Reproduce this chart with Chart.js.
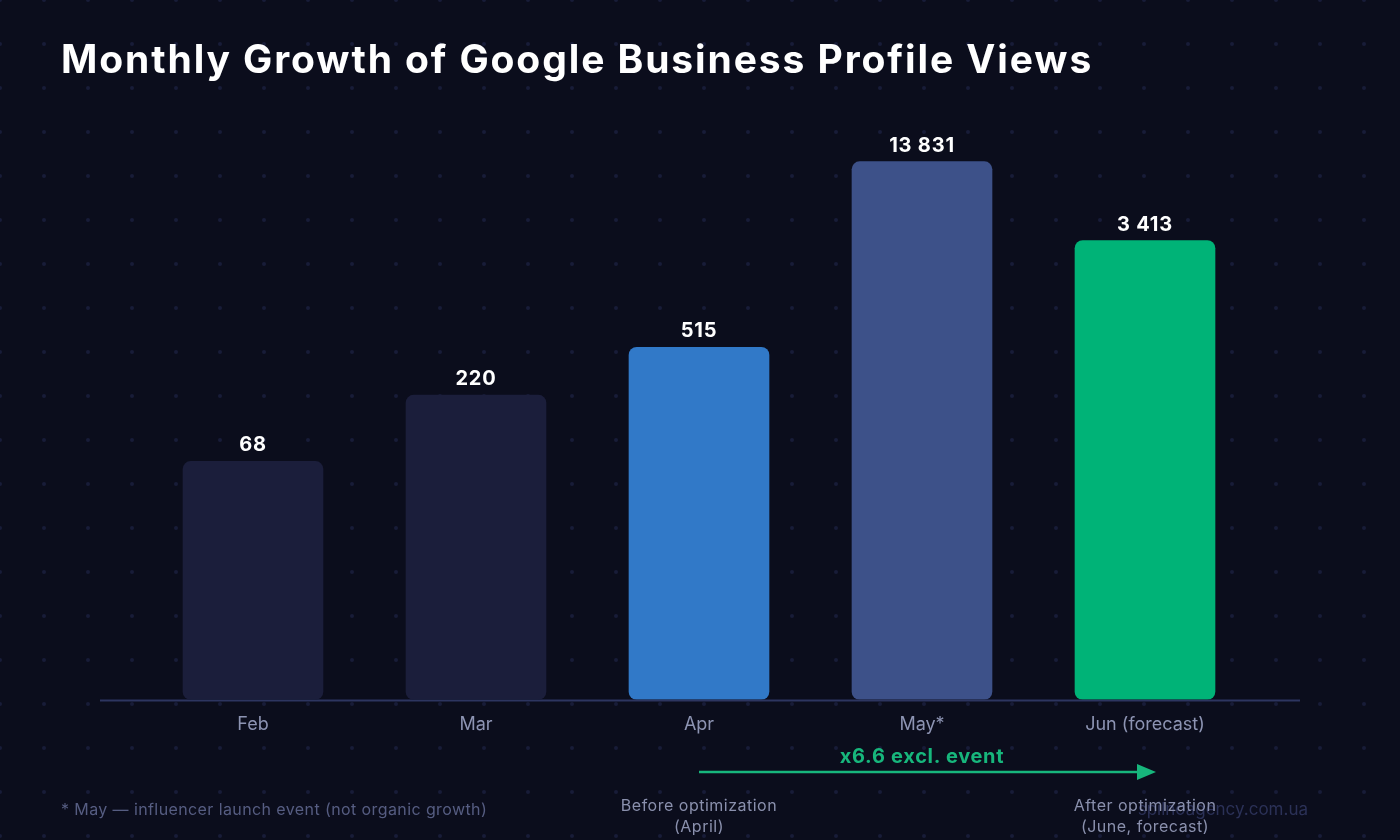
<!DOCTYPE html>
<html>
<head>
<meta charset="utf-8">
<script src="https://cdn.jsdelivr.net/npm/chart.js@4.4.1/dist/chart.umd.min.js"></script>
<style>
  html, body { margin: 0; padding: 0; background: #0b0d1c; }
  #wrap { position: relative; width: 1400px; height: 840px; overflow: hidden; font-family: Inter, "Open Sans", sans-serif; }
  #dots, #chart { position: absolute; left: 0; top: 0; }
  .txt { position: absolute; white-space: nowrap; }
  #title { left: 61px; top: 35px; font-size: 39px; font-weight: 700; letter-spacing: 1.9px; color: #ffffff; }
  #note { left: 61px; top: 799px; font-size: 16px; letter-spacing: 0.4px; color: #565d82; }
  #gain { left: 922px; top: 744px; transform: translateX(-50%); font-size: 20px; font-weight: 700; letter-spacing: 0.7px; color: #17b67c; }
  .cap { top: 795px; transform: translateX(-50%); font-size: 16px; letter-spacing: 0.5px; color: #8a90ad; text-align: center; line-height: 21px; }
  #before { left: 699px; }
  #after { left: 1145px; }
  #mark { right: 92px; top: 799px; font-size: 17px; color: #2b3157; }
</style>
</head>
<body>
<div id="wrap">
  <canvas id="dots" width="1400" height="840"></canvas>
  <canvas id="chart" width="1400" height="840"></canvas>
  <div class="txt" id="title">Monthly Growth of Google Business Profile Views</div>
  <div class="txt" id="gain">x6.6 excl. event</div>
  <div class="txt cap" id="before">Before optimization<br>(April)</div>
  <div class="txt" id="mark">spilnoagency.com.ua</div>
  <div class="txt cap" id="after">After optimization<br>(June, forecast)</div>
  <div class="txt" id="note">* May — influencer launch event (not organic growth)</div>
</div>
<script>
// Données du graphique
const mois = ['Feb', 'Mar', 'Apr', 'May*', 'Jun (forecast)'];
const vues = [68, 220, 515, 13831, 3413];
const etiquettes = ['68', '220', '515', '13 831', '3 413'];
const couleurs = ['#1b1e3b', '#1b1e3b', '#3179c8', '#3d5189', '#00b377'];

// Fond à points
const dctx = document.getElementById('dots').getContext('2d');
dctx.fillStyle = '#181c38';
for (let x = 0; x <= 1400; x += 44) {
  for (let y = 0; y <= 840; y += 44) {
    dctx.beginPath();
    dctx.arc(x, y, 2, 0, Math.PI * 2);
    dctx.fill();
  }
}

// Plugin : ligne de base, valeurs au-dessus des barres, flèche
const decor = {
  id: 'decor',
  beforeDatasetsDraw(chart) {
    const ctx = chart.ctx;
    const y = chart.scales.y.getPixelForValue(1);
    ctx.save();
    ctx.strokeStyle = '#2d3560';
    ctx.lineWidth = 2;
    ctx.beginPath();
    ctx.moveTo(100, y + 1);
    ctx.lineTo(1300, y + 1);
    ctx.stroke();
    ctx.restore();
  },
  afterDatasetsDraw(chart) {
    const ctx = chart.ctx;
    const meta = chart.getDatasetMeta(0);
    ctx.save();
    ctx.fillStyle = '#ffffff';
    ctx.font = '700 20px Inter, sans-serif';
    ctx.letterSpacing = '0.8px';
    ctx.textAlign = 'center';
    ctx.textBaseline = 'bottom';
    meta.data.forEach((bar, i) => {
      ctx.fillText(etiquettes[i], bar.x, bar.y - 6);
    });
    ctx.letterSpacing = '0px';

    // Flèche avril -> juin
    const x0 = meta.data[2].x;
    const x1 = meta.data[4].x + 11;
    const ya = 772;
    ctx.strokeStyle = '#17b67c';
    ctx.fillStyle = '#17b67c';
    ctx.lineWidth = 2.5;
    ctx.beginPath();
    ctx.moveTo(x0, ya);
    ctx.lineTo(x1 - 18, ya);
    ctx.stroke();
    ctx.beginPath();
    ctx.moveTo(x1, ya);
    ctx.lineTo(x1 - 19, ya - 8);
    ctx.lineTo(x1 - 19, ya + 8);
    ctx.closePath();
    ctx.fill();
    ctx.restore();
  }
};

new Chart(document.getElementById('chart').getContext('2d'), {
  type: 'bar',
  data: {
    labels: mois,
    datasets: [{
      data: vues,
      backgroundColor: couleurs,
      borderRadius: 8,
      borderSkipped: false,
      barThickness: 140
    }]
  },
  options: {
    responsive: false,
    animation: false,
    layout: { padding: { left: 141.5, right: 143.5, top: 115, bottom: 99 } },
    plugins: {
      legend: { display: false },
      tooltip: { enabled: false }
    },
    scales: {
      x: {
        grid: { display: false },
        border: { display: false },
        ticks: { color: '#8d94b3', font: { family: 'Inter', size: 18 }, padding: 6 }
      },
      y: {
        type: 'logarithmic',
        display: false,
        min: 1,
        max: 31623
      }
    }
  },
  plugins: [decor]
});
</script>
</body>
</html>
